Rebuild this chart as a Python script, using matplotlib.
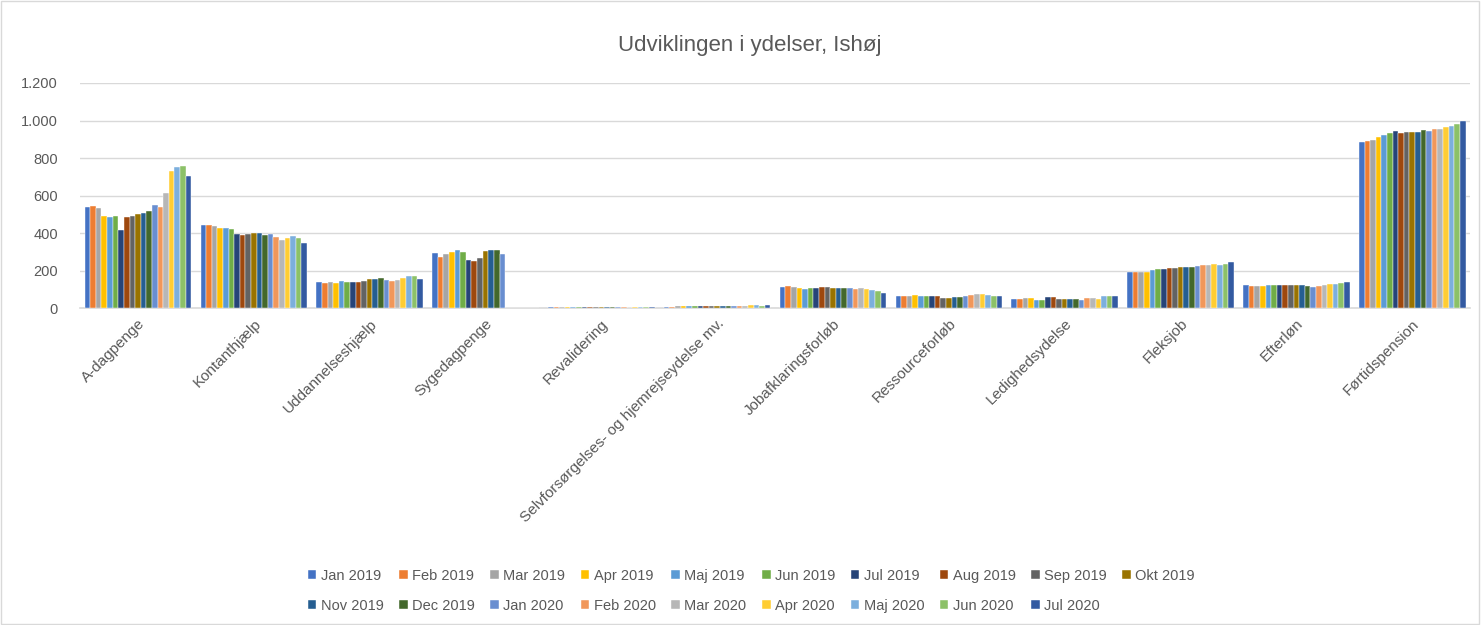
import numpy as np
import matplotlib.pyplot as plt
from matplotlib.patches import Rectangle
from matplotlib.ticker import FuncFormatter

plt.rcParams['font.family'] = ['Liberation Sans', 'DejaVu Sans']

categories = ['A-dagpenge', 'Kontanthjælp', 'Uddannelseshjælp', 'Sygedagpenge', 'Revalidering',
              'Selvforsørgelses- og hjemrejseydelse mv.', 'Jobafklaringsforløb', 'Ressourceforløb',
              'Ledighedsydelse', 'Fleksjob', 'Efterløn', 'Førtidspension']

months = ['Jan 2019', 'Feb 2019', 'Mar 2019', 'Apr 2019', 'Maj 2019', 'Jun 2019', 'Jul 2019',
          'Aug 2019', 'Sep 2019', 'Okt 2019', 'Nov 2019', 'Dec 2019', 'Jan 2020', 'Feb 2020',
          'Mar 2020', 'Apr 2020', 'Maj 2020', 'Jun 2020', 'Jul 2020']

# one list per category, one value per month (Jan 2019 .. Jul 2020)
a_dagpenge = [539, 545, 534, 493, 487, 493, 418, 487, 493, 503, 509, 518, 548, 537, 613, 729, 753, 759, 704]
kontanthjaelp = [443, 443, 437, 428, 428, 423, 395, 389, 395, 400, 400, 388, 395, 380, 363, 373, 386, 373, 348]
uddannelseshjaelp = [139, 133, 142, 137, 148, 142, 139, 142, 148, 156, 156, 162, 151, 148, 151, 162, 172, 172, 156]
sygedagpenge = [293, 274, 288, 299, 308, 299, 258, 252, 268, 304, 309, 309, 288, 0, 0, 0, 0, 0, 0]
revalidering = [7, 6, 6, 6, 6, 6, 6, 6, 6, 6, 6, 6, 6, 6, 0, 6, 6, 6, 5]
selvforsoergelse = [7, 7, 12, 12, 12, 12, 12, 12, 12, 12, 12, 12, 12, 12, 12, 18, 18, 12, 18]
jobafklaring = [114, 119, 114, 108, 103, 108, 108, 114, 114, 108, 108, 108, 108, 103, 108, 103, 98, 94, 82]
ressourceforloeb = [68, 68, 68, 73, 68, 68, 68, 68, 57, 57, 62, 62, 68, 73, 78, 78, 73, 68, 68]
ledighedsydelse = [52, 52, 57, 57, 46, 46, 59, 59, 52, 52, 52, 52, 46, 57, 57, 52, 68, 68, 68]
fleksjob = [194, 194, 194, 194, 203, 208, 208, 213, 213, 219, 219, 222, 228, 233, 233, 238, 233, 238, 244]
efterloen = [123, 117, 117, 117, 123, 123, 123, 123, 123, 123, 123, 117, 112, 117, 123, 128, 128, 137, 139]
foertidspension = [888, 893, 899, 913, 923, 934, 945, 934, 940, 940, 940, 948, 943, 954, 957, 963, 973, 984, 998]

colors = ['#4472C4', '#ED7D31', '#A5A5A5', '#FFC000', '#5B9BD5', '#70AD47',
          '#264478', '#9E480E', '#636363', '#997300', '#255E91', '#43682B',
          '#698ED0', '#F1975A', '#B7B7B7', '#FFCD33', '#7CAFDD', '#8CC168', '#335AA1']

values = np.array([a_dagpenge, kontanthjaelp, uddannelseshjaelp, sygedagpenge, revalidering,
                   selvforsoergelse, jobafklaring, ressourceforloeb, ledighedsydelse, fleksjob,
                   efterloen, foertidspension])

text_color = '#595959'

fig = plt.figure(figsize=(14.82, 6.25), dpi=100)
ax = fig.add_axes([0.054, 0.5067, 0.938, 0.3605])

x = np.arange(len(categories))
group = 0.92
w = group / len(months)
handles = []
for i, m in enumerate(months):
    b = ax.bar(x - group / 2 + w * (i + 0.5), values[:, i], width=w, color=colors[i],
               edgecolor='white', linewidth=0.3, label=m, zorder=3)
    handles.append(b)

ax.set_xlim(-0.5, len(categories) - 0.5)
ax.set_ylim(0, 1200)
ax.set_yticks(np.arange(0, 1201, 200))
ax.yaxis.set_major_formatter(FuncFormatter(lambda v, p: f'{int(v):,}'.replace(',', '.')))
ax.grid(axis='y', color='#D9D9D9', linewidth=1, zorder=0)
for s in ['top', 'right', 'left']:
    ax.spines[s].set_visible(False)
ax.spines['bottom'].set_color('#D9D9D9')
ax.spines['bottom'].set_linewidth(1.2)
ax.tick_params(axis='both', length=0, colors=text_color, labelsize=10.5)
ax.tick_params(axis='y', pad=16)
ax.set_xticks(x)
ax.set_xticklabels(categories, rotation=45, ha='right', rotation_mode='anchor', fontsize=11)
ax.tick_params(axis='x', pad=6)

fig.text(0.506, 0.928, 'Udviklingen i ydelser, Ishøj', ha='center', va='center',
         fontsize=16, color=text_color)

# legend: Excel style, two rows filled row-wise
order = []
for c in range(9):
    order += [c, 10 + c]
order.append(9)
leg = fig.legend([handles[k] for k in order], [months[k] for k in order], ncol=10,
                 loc='center', bbox_to_anchor=(0.507, 0.055), frameon=False,
                 fontsize=10.5, handlelength=0.6, handleheight=0.6, handletextpad=0.3,
                 columnspacing=1.05, labelspacing=1.1)
for t in leg.get_texts():
    t.set_color(text_color)

fig.patches.append(Rectangle((0.001, 0.002), 0.997, 0.996, transform=fig.transFigure,
                             fill=False, edgecolor='#D9D9D9', linewidth=1))

fig.savefig('out.png', dpi=100)
